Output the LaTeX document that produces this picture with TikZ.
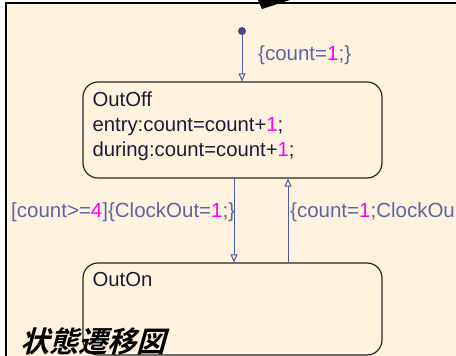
\documentclass[tikz,border=0pt]{standalone}
\usepackage{fontspec}
\setmainfont{Liberation Sans}
\newfontfamily\jpfont[FakeSlant=0.28]{Noto Sans CJK JP Bold}
\usepackage{tikz}
\usetikzlibrary{arrows.meta,positioning}
\definecolor{Chart}{HTML}{FFF3DF}
\definecolor{Trans}{HTML}{4F5CA6}
\definecolor{Label}{HTML}{5C66A3}
\definecolor{Num}{HTML}{FF00FF}
\definecolor{Ink}{HTML}{1C1C38}
\newcommand{\num}[1]{\textcolor{Num}{#1}}

\begin{document}
\begin{tikzpicture}[x=1pt,y=1pt,
  statebox/.style={draw=black!85,line width=1.2pt,rounded corners=15pt,minimum width=299pt,inner sep=0pt},
  statetext/.style={Ink,align=left,inner sep=0pt,font=\fontsize{20.3}{25}\selectfont},
  trans/.style={Trans,line width=1pt,-{Triangle[open,length=8pt,width=7pt]}},
  translabel/.style={Label,inner sep=0pt,font=\fontsize{20.5}{25}\selectfont}]
  \useasboundingbox (0,0) rectangle (456,356);
  \fill[white] (0,0) rectangle (456,356);
  \fill[Chart] (6,0) rectangle (456,353);
  % chart frame
  \draw[line width=2pt] (6,0) -- (6,353) -- (456,353);
  \fill (258,356) -- (262,347) -- (290,356) -- cycle;

  % states
  \node[statebox,minimum height=96pt] (off) at (232.5,226) {};
  \node[statebox,minimum height=92pt] (on) at (232.5,47) {};
  \node[statetext,anchor=north west] (offtxt) at ([xshift=10pt,yshift=-10pt]off.north west)
    {OutOff\\entry:count=count+\num{1};\\during:count=count+\num{1};};
  \node[statetext,anchor=north west] (ontxt) at ([xshift=10pt,yshift=-10pt]on.north west) {OutOn};

  % default transition
  \node[circle,fill=Trans!80!black,inner sep=0pt,minimum size=8pt] (init) at (242,325) {};
  \draw[trans] (init) -- (init |- off.north);
  \node[translabel,anchor=west] (initlbl) at (258,301) {\{count=\num{1};\}};

  % transitions between states
  \draw[trans] ([xshift=1.5pt]off.south) -- ([xshift=1.5pt]on.north);
  \draw[trans] ([xshift=55.5pt]on.north) -- ([xshift=55.5pt]off.south);
  \node[translabel,anchor=west] (offon) at (11,144) {[count>=\num{4}]\{ClockOut=\num{1};\}};
  \node[translabel,anchor=west] (onoff) at (290,144) {\{count=\num{1};ClockOu};

  \node[anchor=west,inner sep=0pt,font=\jpfont\fontsize{29}{31}\selectfont] (title) at (20,15) {状態遷移図};
\end{tikzpicture}
\end{document}
